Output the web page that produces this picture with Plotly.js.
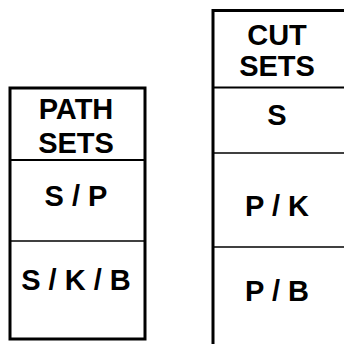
<!DOCTYPE html>
<html>
<head>
<meta charset="utf-8">
<script src="https://cdn.plot.ly/plotly-3.0.1.min.js"></script>
<style>html,body{margin:0;padding:0;background:#fff;}#chart{width:344px;height:344px;}</style>
</head>
<body>
<div id="chart"></div>
<script>
// ---- data ----
const pathTitle = ["PATH", "SETS"];
const cutTitle = ["CUT", "SETS"];
const pathSets = ["S / P", "S / K / B"];
const cutSets = ["S", "P / K", "P / B"];

// ---- layout geometry (pixel-like axis units) ----
const tables = [
  {x0: 10, x1: 145, top: 88, headerBottom: 160, rows: [241, 339], cx: 76,
   titleY: [112, 145.5], labelY: [199, 283], labels: pathSets, title: pathTitle},
  {x0: 213, x1: 352, top: 10.5, headerBottom: 87.5, rows: [153, 247, 352], cx: 277,
   titleY: [38, 68.5], labelY: [117.5, 208.5, 294], labels: cutSets, title: cutTitle}
];

const shapes = [];
const textX = [], textY = [], textS = [];
tables.forEach(t => {
  shapes.push({type: 'rect', xref: 'x', yref: 'y', x0: t.x0, x1: t.x1, y0: t.top, y1: t.rows[t.rows.length - 1],
    line: {color: '#000', width: 3}, fillcolor: 'rgba(0,0,0,0)'});
  shapes.push({type: 'line', xref: 'x', yref: 'y', x0: t.x0, x1: t.x1, y0: t.headerBottom, y1: t.headerBottom,
    line: {color: '#000', width: 2.2}});
  t.rows.slice(0, -1).forEach(r => {
    shapes.push({type: 'line', xref: 'x', yref: 'y', x0: t.x0, x1: t.x1, y0: r, y1: r,
      line: {color: '#000', width: 1.5}});
  });
  t.title.forEach((line, i) => { textX.push(t.cx); textY.push(t.titleY[i]); textS.push(line); });
  t.labels.forEach((lab, i) => { textX.push(t.cx); textY.push(t.labelY[i]); textS.push(lab); });
});

const trace = {
  type: 'scatter', mode: 'text', x: textX, y: textY, text: textS,
  textposition: 'middle center', hoverinfo: 'skip',
  textfont: {family: 'Liberation Sans, Arial, sans-serif', size: 29, color: '#000', weight: 'bold'}
};

const layout = {
  width: 344, height: 344,
  margin: {l: 0, r: 0, t: 0, b: 0},
  paper_bgcolor: '#fff', plot_bgcolor: '#fff',
  showlegend: false,
  xaxis: {range: [0, 344], visible: false, fixedrange: true},
  yaxis: {range: [344, 0], visible: false, fixedrange: true},
  shapes: shapes
};

Plotly.newPlot('chart', [trace], layout, {staticPlot: true, displayModeBar: false});
</script>
</body>
</html>
